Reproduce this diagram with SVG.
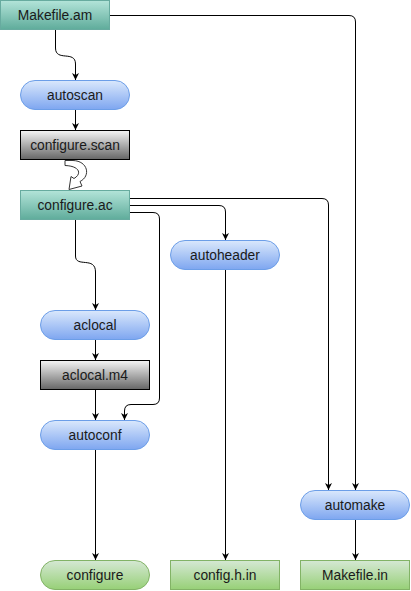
<svg xmlns="http://www.w3.org/2000/svg" width="411" height="591" viewBox="0 0 411 591">
<defs>
<linearGradient id="gTeal" x1="0" y1="0" x2="0" y2="1"><stop offset="0" stop-color="#b3e4d9"/><stop offset="1" stop-color="#5fac9b"/></linearGradient>
<linearGradient id="gBlue" x1="0" y1="0" x2="0" y2="1"><stop offset="0" stop-color="#dae8fc"/><stop offset="1" stop-color="#7ea6f0"/></linearGradient>
<linearGradient id="gGrey" x1="0" y1="0" x2="0" y2="1"><stop offset="0" stop-color="#f5f5f5"/><stop offset="1" stop-color="#666666"/></linearGradient>
<linearGradient id="gGreen" x1="0" y1="0" x2="0" y2="1"><stop offset="0" stop-color="#d5e8d4"/><stop offset="1" stop-color="#97d077"/></linearGradient>
<marker id="arr" viewBox="0 0 10 10" refX="10" refY="5" markerWidth="7" markerHeight="7" markerUnits="userSpaceOnUse" orient="auto"><path d="M0,0 L10,5 L0,10 L3,5 Z" fill="#000"/></marker>
</defs>
<style>
.teal{fill:url(#gTeal);stroke:#67ab9f;stroke-width:1}
.blue{fill:url(#gBlue);stroke:#6c9ee8;stroke-width:1}
.grey{fill:url(#gGrey);stroke:#000;stroke-width:1}
.green{fill:url(#gGreen);stroke:#82b366;stroke-width:1}
text{font-family:"Liberation Sans",Arial,sans-serif;font-size:13.8px;fill:#1a1a1a;text-anchor:middle;dominant-baseline:central}
.e{fill:none;stroke:#000;stroke-width:1;marker-end:url(#arr)}
</style>
<g id="connectors">
<path class="e" d="M55.5 30 L55.5 48 C55.5 62 75.5 50 75.5 64 L75.5 80"/>
<path class="e" d="M110 15.5 L349 15.5 Q355.5 15.5 355.5 22 L355.5 490"/>
<path class="e" d="M75.5 110 L75.5 130"/>
<path d="M65 160.5 L73 160.5 C88 161 91 176 80 181.5 L82 186 L69 189.5 L71 176.5 L74 178.5 C82 174 80 166 65 165.5 Z" fill="#fff" stroke="#333" stroke-width="1"/>
<path class="e" d="M130 198.5 L322 198.5 Q328.5 198.5 328.5 205 L328.5 490"/>
<path class="e" d="M130 205.5 L219 205.5 Q225.5 205.5 225.5 212 L225.5 240"/>
<path class="e" d="M130 212.5 L153 212.5 Q159.5 212.5 159.5 219 L159.5 398 Q159.5 404.5 153 404.5 L131 404.5 Q124.5 404.5 124.5 411 L124.5 420"/>
<path class="e" d="M75.5 220 L75.5 256 C75.5 268 95.5 256 95.5 272 L95.5 310"/>
<path class="e" d="M95.5 340 L95.5 360"/>
<path class="e" d="M95.5 390 L95.5 420"/>
<path class="e" d="M95.5 450 L95.5 560"/>
<path class="e" d="M225.5 270 L225.5 560"/>
<path class="e" d="M355.5 520 L355.5 560"/>
</g>
<g id="makefile-am"><rect class="teal" x="0.5" y="0.5" width="109" height="29"/><text x="55" y="15">Makefile.am</text></g>
<g id="autoscan"><rect class="blue" x="20.5" y="80.5" width="109" height="29" rx="14.5"/><text x="75" y="95">autoscan</text></g>
<g id="configure-scan"><rect class="grey" x="20.5" y="130.5" width="109" height="29"/><text x="75" y="145">configure.scan</text></g>
<g id="configure-ac"><rect class="teal" x="20.5" y="190.5" width="109" height="29"/><text x="75" y="205">configure.ac</text></g>
<g id="autoheader"><rect class="blue" x="170.5" y="240.5" width="109" height="29" rx="14.5"/><text x="225" y="255">autoheader</text></g>
<g id="aclocal"><rect class="blue" x="40.5" y="310.5" width="109" height="29" rx="14.5"/><text x="95" y="325">aclocal</text></g>
<g id="aclocal-m4"><rect class="grey" x="40.5" y="360.5" width="109" height="29"/><text x="95" y="375">aclocal.m4</text></g>
<g id="autoconf"><rect class="blue" x="40.5" y="420.5" width="109" height="29" rx="14.5"/><text x="95" y="435">autoconf</text></g>
<g id="automake"><rect class="blue" x="300.5" y="490.5" width="109" height="29" rx="14.5"/><text x="355" y="505">automake</text></g>
<g id="configure"><rect class="green" x="40.5" y="560.5" width="109" height="29" rx="14.5"/><text x="95" y="575">configure</text></g>
<g id="config-h-in"><rect class="green" x="170.5" y="560.5" width="109" height="29"/><text x="225" y="575">config.h.in</text></g>
<g id="makefile-in"><rect class="green" x="300.5" y="560.5" width="109" height="29"/><text x="355" y="575">Makefile.in</text></g>
</svg>
